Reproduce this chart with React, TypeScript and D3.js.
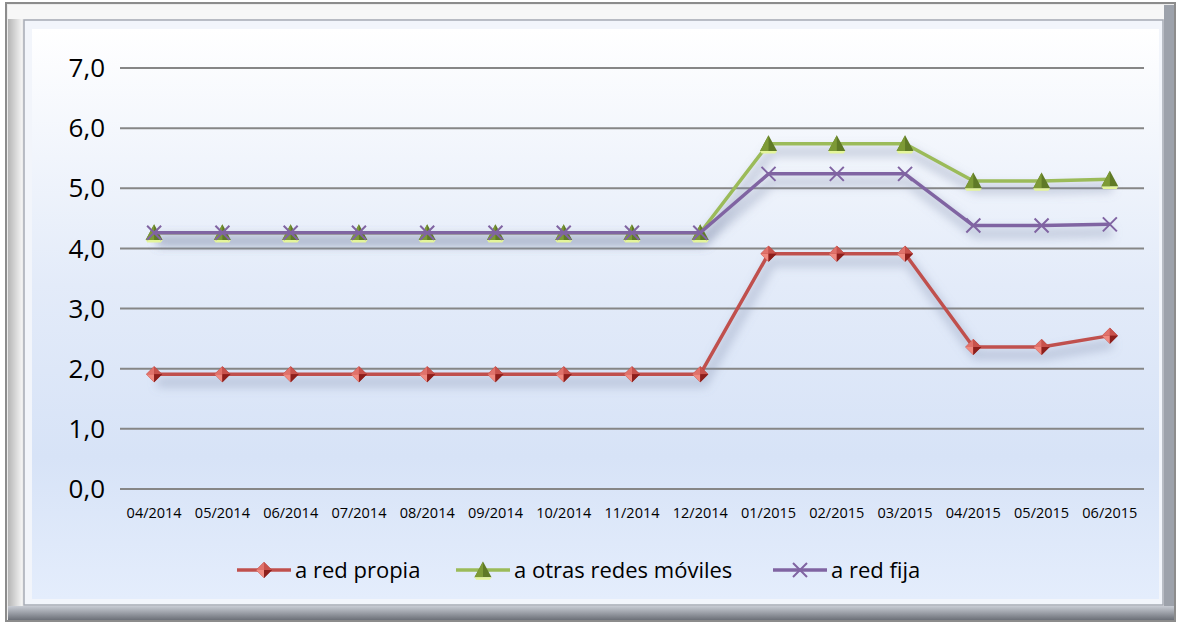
import * as d3 from 'd3';
import React from 'react';

const months = [
  '04/2014', '05/2014', '06/2014', '07/2014', '08/2014', '09/2014', '10/2014', '11/2014',
  '12/2014', '01/2015', '02/2015', '03/2015', '04/2015', '05/2015', '06/2015',
];
const redPropia = [1.91, 1.91, 1.91, 1.91, 1.91, 1.91, 1.91, 1.91, 1.91, 3.91, 3.91, 3.91, 2.36, 2.36, 2.55];
const otrasMoviles = [4.26, 4.26, 4.26, 4.26, 4.26, 4.26, 4.26, 4.26, 4.26, 5.74, 5.74, 5.74, 5.12, 5.12, 5.15];
const redFija = [4.26, 4.26, 4.26, 4.26, 4.26, 4.26, 4.26, 4.26, 4.26, 5.24, 5.24, 5.24, 4.38, 4.38, 4.4];
const yTicks = [0, 1, 2, 3, 4, 5, 6, 7];

const seriesNames = ['a red propia', 'a otras redes móviles', 'a red fija'];
const seriesColors = ['#c0504d', '#9bbb59', '#8064a2'];

const W = 1182;
const H = 626;
const plot = { left: 120, right: 1144, top: 68, bottom: 489 };
const font = "'Open Sans', 'Noto Sans', sans-serif";

const Marker = ({ kind, x, y }: { kind: number; x: number; y: number }) => {
  if (kind === 0) {
    const r = 8;
    return (
      <g transform={`translate(${x},${y})`}>
        <path d={`M0,${-r}L${r},0L0,${r}L${-r},0Z`} fill="#a52a26" />
        <path d={`M0,${-r}L${r},0L0,0Z`} fill="#c8524c" />
        <path d={`M${-r},0L0,${-r}L0,0Z`} fill="#e0726b" />
        <path d={`M${-r},0L0,${r}L0,0Z`} fill="#f08a80" />
        <path d={`M0,${r}L${r},0L0,0Z`} fill="#8c1f1c" />
      </g>
    );
  }
  if (kind === 1) {
    const s = 8.5;
    return (
      <g transform={`translate(${x},${y})`}>
        <path d={`M0,${-s}L${s},${s * 0.85}L${-s},${s * 0.85}Z`} fill="#5f7a26" />
        <path d={`M0,${-s}L0,${s * 0.85}L${-s},${s * 0.85}Z`} fill="#7d9a36" />
        <path d={`M${-s},${s * 0.85}L${s},${s * 0.85}L${s * 0.8},${s * 0.85 + 2.5}L${-s * 0.8},${s * 0.85 + 2.5}Z`} fill="#e4f59a" />
      </g>
    );
  }
  const c = 7;
  return (
    <path
      d={`M${x - c},${y - c}L${x + c},${y + c}M${x - c},${y + c}L${x + c},${y - c}`}
      stroke="#8064a2"
      strokeWidth={2}
      fill="none"
    />
  );
};

export default function App() {
  const x = d3.scalePoint<string>().domain(months).range([plot.left, plot.right]).padding(0.5);
  const y = d3.scaleLinear().domain([0, 7]).range([plot.bottom, plot.top]);
  const allSeries = [redPropia, otrasMoviles, redFija];

  const line = d3
    .line<number>()
    .x((_, i) => x(months[i]) as number)
    .y((v) => y(v));

  const fmt = (v: number) => v.toFixed(1).replace('.', ',');

  // legend line start positions
  const legendX = [237, 456, 773];
  const legendY = 570;

  return (
    <svg width={W} height={H} style={{ position: 'absolute', left: 0, top: 0 }} fontFamily={font}>
      <defs>
        <linearGradient id="bg" x1="0" y1="0" x2="0" y2="1">
          <stop offset="0" stopColor="#ffffff" />
          <stop offset="0.45" stopColor="#e3ebf9" />
          <stop offset="0.75" stopColor="#d7e3f7" />
          <stop offset="1" stopColor="#e4edfc" />
        </linearGradient>
        <linearGradient id="frameL" x1="0" y1="0" x2="1" y2="0">
          <stop offset="0" stopColor="#b5b5b5" />
          <stop offset="1" stopColor="#f4f4f4" />
        </linearGradient>
        <linearGradient id="frameB" x1="0" y1="0" x2="0" y2="1">
          <stop offset="0" stopColor="#c8ccd4" />
          <stop offset="1" stopColor="#6c7078" />
        </linearGradient>
        <filter id="shadow" x="-10%" y="-30%" width="120%" height="160%">
          <feGaussianBlur stdDeviation="5" />
        </filter>
      </defs>

      {/* bevelled frame */}
      <rect x={6} y={3} width={1169} height={618} fill="#ececec" stroke="#8c8c8c" strokeWidth={2} />
      <rect x={8} y={5} width={14} height={614} fill="url(#frameL)" />
      <rect x={8} y={5} width={1165} height={14} fill="#f7f7f7" />
      <rect x={1164} y={5} width={10} height={615} fill="#9da2ab" />
      <rect x={8} y={606} width={1166} height={14} fill="url(#frameB)" />
      <rect x={24} y={20} width={1139} height={585} fill="#f2f5fb" stroke="#a6abb5" strokeWidth={1.5} />
      <rect x={32} y={29} width={1127} height={570} fill="url(#bg)" />

      {/* gridlines */}
      {yTicks.map((t) => (
        <g key={t}>
          <line x1={plot.left} x2={plot.right} y1={y(t)} y2={y(t)} stroke="#868686" strokeWidth={2} />
          <text x={105} y={y(t)} dy="0.35em" textAnchor="end" fontSize={26} fill="#000">
            {fmt(t)}
          </text>
        </g>
      ))}

      {/* x labels */}
      {months.map((m) => (
        <text key={m} x={x(m)} y={518} textAnchor="middle" fontSize={14.5} fill="#000">
          {m}
        </text>
      ))}

      {/* shadows */}
      {allSeries.map((s, i) => (
        <path
          key={`sh${i}`}
          d={line(s) as string}
          transform="translate(3,8)"
          fill="none"
          stroke="#7a8aa8"
          strokeOpacity={0.35}
          strokeWidth={10}
          filter="url(#shadow)"
        />
      ))}

      {/* series lines + markers */}
      {allSeries.map((s, i) => (
        <g key={`s${i}`}>
          <path d={line(s) as string} fill="none" stroke={seriesColors[i]} strokeWidth={3.5} strokeLinejoin="round" />
          {s.map((v, j) => (
            <Marker key={j} kind={i} x={x(months[j]) as number} y={y(v)} />
          ))}
        </g>
      ))}

      {/* legend */}
      {seriesNames.map((n, i) => (
        <g key={n}>
          <line x1={legendX[i]} x2={legendX[i] + 54} y1={legendY} y2={legendY} stroke={seriesColors[i]} strokeWidth={3.5} />
          <Marker kind={i} x={legendX[i] + 27} y={legendY} />
          <text x={legendX[i] + 58} y={legendY} dy="0.35em" fontSize={22} fill="#000">
            {n}
          </text>
        </g>
      ))}
    </svg>
  );
}
